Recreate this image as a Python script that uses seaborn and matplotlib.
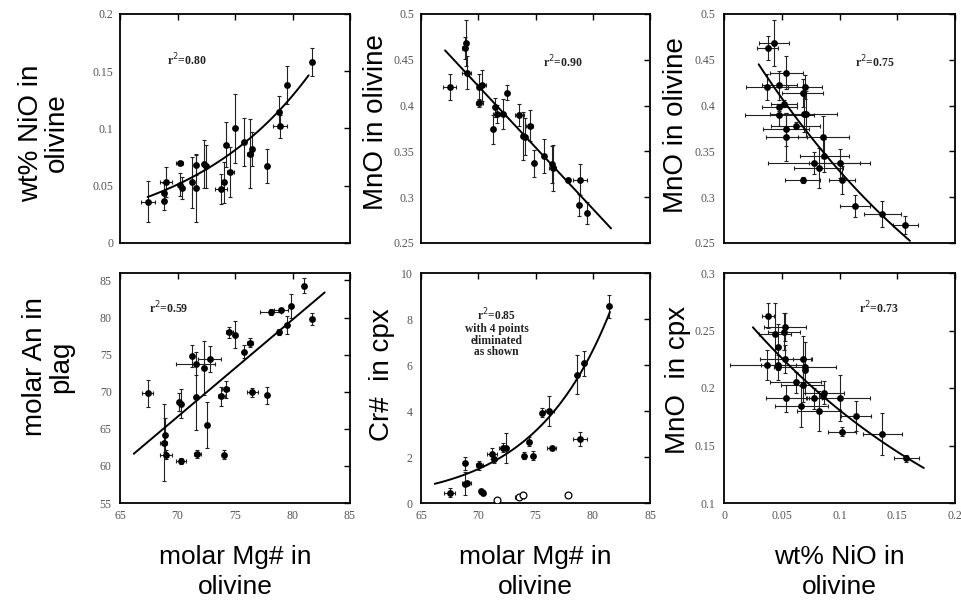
import numpy as np
import matplotlib
matplotlib.use("Agg")
import matplotlib.pyplot as plt
import seaborn as sns
from matplotlib.ticker import FuncFormatter, MultipleLocator

sns.set_theme(style="white")
plt.rcParams['font.family'] = ['Liberation Sans', 'DejaVu Sans']

# ---------------- data ----------------
# Panel A: wt% NiO in olivine vs molar Mg# in olivine
a_mg = [67.4, 68.8, 68.8, 69.0, 70.2, 70.2, 70.4, 71.3, 71.6, 71.6, 72.3, 72.5, 73.8,
        74.0, 74.2, 74.6, 75.0, 75.8, 76.3, 76.5, 77.8, 78.8, 78.9, 79.5, 81.7]
a_nio = [0.036, 0.044, 0.037, 0.053, 0.070, 0.051, 0.048, 0.053, 0.068, 0.048, 0.069, 0.067, 0.047,
         0.053, 0.086, 0.062, 0.100, 0.088, 0.078, 0.082, 0.067, 0.114, 0.102, 0.138, 0.158]
a_mg_err = [0.6, 0, 0, 0.5, 0.3, 0, 0, 0, 0, 0, 0, 0, 0.5,
            0, 0, 0.3, 0, 0, 0.3, 0, 0, 0, 0.6, 0, 0]
a_nio_err = [0.018, 0.008, 0.008, 0.013, 0.002, 0.010, 0.010, 0.022, 0.009, 0.030, 0.021, 0.019, 0.013,
             0.018, 0.020, 0.022, 0.030, 0.021, 0.030, 0.015, 0.015, 0.014, 0.010, 0.017, 0.012]

# Panel B: MnO in olivine vs molar Mg# in olivine
b_mg = [67.5, 68.9, 68.8, 69.0, 70.1, 70.3, 70.1, 71.5, 71.6, 71.3, 72.2, 72.5, 73.6,
        73.9, 74.1, 74.5, 74.9, 75.7, 76.4, 76.5, 77.8, 78.9, 78.8, 79.5]
b_mno = [0.420, 0.468, 0.463, 0.436, 0.420, 0.422, 0.403, 0.398, 0.391, 0.374, 0.391, 0.414, 0.390,
         0.367, 0.366, 0.378, 0.337, 0.345, 0.336, 0.332, 0.319, 0.319, 0.291, 0.283]
b_mg_err = [0.55, 0, 0.2, 0.4, 0, 0.4, 0.3, 0, 0.3, 0, 0, 0, 0.4,
            0, 0, 0.3, 0, 0, 0, 0.3, 0, 0.6, 0, 0]
b_mno_err = [0.014, 0.025, 0.012, 0.018, 0.014, 0.017, 0.004, 0.010, 0.010, 0.016, 0.016, 0.008, 0.012,
             0.026, 0.020, 0.017, 0.015, 0.019, 0.020, 0.025, 0.002, 0.017, 0.012, 0.012]

# Panel C: MnO in olivine vs wt% NiO in olivine
c_nio = [0.038, 0.043, 0.037, 0.048, 0.054, 0.048, 0.048, 0.052, 0.054, 0.054, 0.062, 0.068, 0.070,
         0.069, 0.071, 0.086, 0.087, 0.078, 0.082, 0.068, 0.100, 0.102, 0.113, 0.137, 0.157]
c_mno = [0.463, 0.468, 0.420, 0.422, 0.436, 0.398, 0.390, 0.402, 0.374, 0.366, 0.378, 0.414, 0.420,
         0.391, 0.391, 0.366, 0.345, 0.337, 0.332, 0.319, 0.337, 0.319, 0.290, 0.282, 0.270]
c_nio_err = [0.009, 0.013, 0.018, 0.015, 0.014, 0.015, 0.030, 0.011, 0.020, 0.018, 0.021, 0.018, 0.015,
             0.029, 0, 0.022, 0.021, 0.040, 0.021, 0.015, 0.026, 0.011, 0.013, 0.016, 0.011]
c_mno_err = [0.013, 0.025, 0.014, 0.016, 0.018, 0.004, 0.012, 0.004, 0.018, 0.026, 0.004, 0.015, 0.013,
             0.020, 0.025, 0.023, 0.018, 0.012, 0.022, 0.003, 0.016, 0.015, 0.012, 0.014, 0.010]

# Panel D: molar An in plag vs molar Mg# in olivine
d_mg = [67.4, 68.9, 68.8, 69.0, 70.1, 70.3, 70.3, 71.3, 71.6, 71.6, 71.7, 72.3, 72.6, 72.8, 73.8,
        74.2, 74.0, 74.5, 75.0, 75.8, 76.3, 76.5, 77.8, 78.1, 79.0, 78.8, 79.5, 79.9, 81.0, 81.7]
d_an = [69.8, 64.2, 63.1, 61.5, 68.6, 68.4, 60.7, 74.8, 73.8, 69.3, 61.6, 73.2, 65.5, 74.4, 69.4,
        70.3, 61.5, 78.0, 77.7, 75.4, 76.6, 69.9, 69.5, 80.7, 81.0, 78.1, 79.0, 81.6, 84.3, 79.8]
d_mg_err = [0.5, 0, 0.3, 0.5, 0, 0, 0.4, 0, 1.7, 0, 0.3, 0, 0, 1.0, 0.3,
            0.3, 0, 0.3, 0, 0, 0.3, 0.5, 0, 0.9, 0.6, 0, 0, 0, 0, 0]
d_an_err = [1.8, 2.3, 5.2, 0.6, 1.2, 1.9, 0.4, 1.5, 1.6, 4.4, 0.6, 3.7, 3.1, 1.8, 1.3,
            1.2, 0.6, 0.7, 1.8, 0.9, 0.6, 0.6, 1.1, 0.4, 0.3, 0.4, 1.2, 1.6, 1.0, 0.8]

# Panel E: Cr# in cpx vs molar Mg# in olivine (filled = used, open = eliminated)
e_mg = [67.5, 68.8, 68.8, 69.0, 70.1, 70.2, 70.4, 71.2, 71.4, 72.2, 72.4, 74.0, 74.4, 74.8,
        75.6, 76.2, 76.4, 78.6, 79.2, 78.9, 81.4]
e_cr = [0.45, 1.72, 0.84, 0.87, 1.64, 0.51, 0.45, 2.15, 1.93, 2.41, 2.41, 2.06, 2.66, 2.05,
        3.92, 4.01, 2.40, 5.57, 6.08, 2.79, 8.55]
e_mg_err = [0.5, 0, 0, 0.4, 0.3, 0, 0, 0.4, 0, 0.4, 0, 0, 0, 0,
            0, 0.4, 0.4, 0, 0, 0.6, 0]
e_cr_err = [0.2, 0.3, 0.5, 0.1, 0.2, 0.1, 0.1, 0.25, 0.2, 0.2, 0.65, 0.15, 0.2, 0.2,
            0.2, 0.65, 0.1, 0.85, 0.55, 0.3, 0.5]
e_open_mg = [71.6, 73.6, 73.9, 77.8]
e_open_cr = [0.15, 0.25, 0.35, 0.35]
e_open_mg_err = [0, 0.4, 0, 0]

# Panel F: MnO in cpx vs wt% NiO in olivine
f_nio = [0.038, 0.044, 0.047, 0.052, 0.053, 0.037, 0.047, 0.047, 0.053, 0.068, 0.070, 0.070, 0.062,
         0.068, 0.054, 0.067, 0.078, 0.082, 0.087, 0.086, 0.100, 0.102, 0.114, 0.137, 0.158]
f_mno = [0.263, 0.247, 0.236, 0.249, 0.253, 0.220, 0.220, 0.218, 0.225, 0.225, 0.218, 0.216, 0.205,
         0.203, 0.191, 0.184, 0.191, 0.180, 0.196, 0.193, 0.191, 0.162, 0.176, 0.160, 0.139]
f_nio_err = [0.005, 0.014, 0, 0.014, 0.018, 0.032, 0.015, 0, 0.022, 0.008, 0.027, 0, 0.022,
             0.019, 0.018, 0.023, 0.007, 0.019, 0.017, 0, 0.026, 0.012, 0.013, 0.017, 0.011]
f_mno_err = [0.011, 0.027, 0.020, 0.016, 0.012, 0.013, 0, 0.011, 0.012, 0.020, 0.022, 0, 0.009,
             0.015, 0.012, 0.018, 0.009, 0.017, 0.010, 0, 0.020, 0.004, 0.013, 0.018, 0.003]

# fit ranges and annotation texts
fit_ranges = {"A": (67.4, 81.4), "B": (67.1, 81.6), "C": (0.030, 0.161),
              "D": (66.2, 82.8), "E": (66.2, 81.5), "F": (0.025, 0.173)}
fit_kinds = {"A": "exp_w", "B": "lin", "C": "exp", "D": "lin", "E": "exp_w", "F": "exp"}
r2_texts = {"A": "r$^{2}$=0.80", "B": "r$^{2}$=0.90", "C": "r$^{2}$=0.75",
            "D": "r$^{2}$=0.59",
            "E": "r$^{2}$=0.85\nwith 4 points\neliminated\nas shown",
            "F": "r$^{2}$=0.73"}
y_labels = {"A": "wt% NiO in\nolivine", "B": "MnO in olivine", "C": "MnO in olivine",
            "D": "molar An in\nplag", "E": "Cr#  in cpx", "F": "MnO  in cpx"}
x_labels = ["molar Mg# in\nolivine", "molar Mg# in\nolivine", "wt% NiO in\nolivine"]

# ---------------- layout ----------------
W, H = 961, 610
fig = plt.figure(figsize=(W / 100, H / 100), dpi=100)
fig.patch.set_facecolor("white")

cols = [(120, 230), (421, 229), (724, 231)]
rows = [(14, 229), (273, 230)]

def px_axes(left, top, w, h):
    return fig.add_axes([left / W, 1 - (top + h) / H, w / W, h / H])

fmt = FuncFormatter(lambda v, p: "%g" % round(v, 3))
serif = ['Liberation Serif', 'DejaVu Serif']

def style_axes(ax, xlim, ylim, xstep, ystep, xlabels, ypad):
    ax.set_xlim(*xlim)
    ax.set_ylim(*ylim)
    ax.xaxis.set_major_locator(MultipleLocator(xstep))
    ax.yaxis.set_major_locator(MultipleLocator(ystep))
    ax.xaxis.set_major_formatter(fmt)
    ax.yaxis.set_major_formatter(fmt)
    ax.tick_params(direction="in", top=True, right=True, length=4, width=1.0,
                   colors="black", labelcolor="#555555", labelsize=8.5, pad=5,
                   labelbottom=xlabels)
    ax.tick_params(axis="y", pad=ypad)
    for lab in ax.get_xticklabels() + ax.get_yticklabels():
        lab.set_family(serif)
    for s in ax.spines.values():
        s.set_color("black")
        s.set_linewidth(1.3)
    ax.set_facecolor("white")
    ax.grid(False)
    ax.set_xlabel("")
    ax.set_ylabel("")

def nz(v):
    a = np.asarray(v, dtype=float)
    return np.where(a > 0, a, np.nan)

def draw_points(ax, x, y, xe, ye, filled=True):
    ax.errorbar(x, y, yerr=nz(ye), fmt="none", ecolor="#222222", elinewidth=0.8,
                capsize=1.6, capthick=0.8, zorder=2)
    ax.errorbar(x, y, xerr=nz(xe), fmt="none", ecolor="#222222", elinewidth=0.8,
                capsize=1.6, capthick=0.8, zorder=2)
    sns.scatterplot(x=x, y=y, ax=ax, s=24, color="black" if filled else "white",
                    edgecolor="black", linewidth=0.9 if not filled else 0, zorder=3)

def draw_fit(ax, x, y, key):
    lo, hi = fit_ranges[key]
    xs = np.linspace(lo, hi, 100)
    x = np.asarray(x, float)
    y = np.asarray(y, float)
    kind = fit_kinds[key]
    if kind == "lin":
        c = np.polyfit(x, y, 1)
        ys = np.polyval(c, xs)
    else:
        w = y if kind == "exp_w" else None
        c = np.polyfit(x, np.log(y), 1, w=w)
        ys = np.exp(np.polyval(c, xs))
    sns.lineplot(x=xs, y=ys, ax=ax, color="black", linewidth=1.4, zorder=4)

panels = [
    ("A", a_mg, a_nio, a_mg_err, a_nio_err, (65, 85), (0, 0.2), 5, 0.05, 0, 0, (0.29, 0.80), 5),
    ("B", b_mg, b_mno, b_mg_err, b_mno_err, (65, 85), (0.25, 0.5), 5, 0.05, 1, 0, (0.62, 0.79), 5),
    ("C", c_nio, c_mno, c_nio_err, c_mno_err, (0, 0.2), (0.25, 0.5), 0.05, 0.05, 2, 0, (0.655, 0.79), 6),
    ("D", d_mg, d_an, d_mg_err, d_an_err, (65, 85), (55, 86), 5, 5, 0, 1, (0.21, 0.85), 6),
    ("E", e_mg, e_cr, e_mg_err, e_cr_err, (65, 85), (0, 10), 5, 2, 1, 1, (0.33, 0.74), 6),
    ("F", f_nio, f_mno, f_nio_err, f_mno_err, (0, 0.2), (0.1, 0.3), 0.05, 0.05, 2, 1, (0.67, 0.85), 6),
]

for key, x, y, xe, ye, xlim, ylim, xs, ys, ci, ri, tpos, ypad in panels:
    left, w = cols[ci]
    top, h = rows[ri]
    ax = px_axes(left, top, w, h)
    draw_points(ax, x, y, xe, ye)
    if key == "E":
        draw_points(ax, e_open_mg, e_open_cr, e_open_mg_err, [0] * len(e_open_cr), filled=False)
    draw_fit(ax, x, y, key)
    style_axes(ax, xlim, ylim, xs, ys, xlabels=(ri == 1), ypad=ypad)
    ax.text(tpos[0], tpos[1], r2_texts[key], transform=ax.transAxes, ha="center", va="center",
            family=serif, fontweight="bold", fontsize=8.5 if key != "E" else 8.3,
            linespacing=0.95, color="#222222")

# y labels (figure text, in pixel positions)
ylab_pos = {"A": (44, 133), "B": (376, 122), "C": (676, 125),
            "D": (48, 367), "E": (382, 375), "F": (678, 380)}
for key, (px, py) in ylab_pos.items():
    fig.text(px / W, 1 - py / H, y_labels[key], rotation=90, ha="center", va="center",
             fontsize=20, linespacing=1.0, multialignment="center", color="black")

for (left, w), lab in zip(cols, x_labels):
    fig.text((left + w / 2) / W, 1 - 572 / H, lab, ha="center", va="center",
             fontsize=19, linespacing=1.3, multialignment="center", color="black")

fig.savefig("out.png", dpi=100, facecolor="white")
